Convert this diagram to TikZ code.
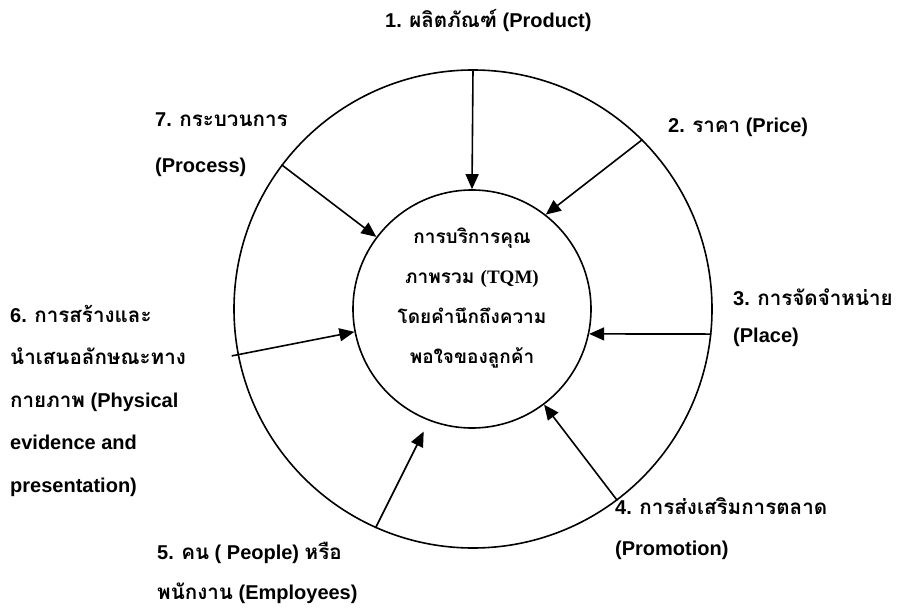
\documentclass[tikz,border=0pt]{standalone}
\usepackage{fontspec}
\setmainfont{Liberation Sans}
\newfontfamily\thai[Script=Thai,Scale=1.03]{Loma}
\newfontfamily\thaic[Script=Thai]{Loma}
\newfontfamily\tserif{Liberation Serif}
\usetikzlibrary{arrows.meta}
\begin{document}
\begin{tikzpicture}[x=1pt,y=-1pt,
  ring/.style={draw, circle, line width=1.6pt, inner sep=0pt},
  arr/.style={line width=1.6pt, -{Triangle[length=15pt,width=13pt]}},
  lab/.style={font=\bfseries\fontsize{20}{42}\selectfont, align=left, anchor=base west, inner sep=0pt}]
\useasboundingbox (0,0) rectangle (904,609);
\node[ring, minimum size=478pt] (outer) at (473,309) {};
\node[ring, minimum size=238pt] (inner) at (472,309) {};
\node[align=center, inner sep=0pt, font=\bfseries\fontsize{19}{40}\selectfont\thaic] (core) at (472,298)
  {การบริการคุณ\\ภาพรวม {\tserif\bfseries (TQM)}\\โดยคำนึกถึงความ\\พอใจของลูกค้า};
% arrows
\draw[arr] (outer.90) -- (inner.90);
\draw[arr] (outer.45) -- (inner.52);
\draw[arr] (outer.-6) -- (inner.-12);
\draw[arr] (outer.-53) -- (inner.-53);
\draw[arr, shorten >=12pt] (outer.-114) -- (inner.-111);
\draw[arr, shorten <=-6pt] (outer.191) -- (inner.191);
\draw[arr] (outer.143) -- (inner.143);
% labels (base = baseline of last line)
\node[lab] (l1) at (385,28) {1. {\thai ผลิตภัณฑ์} (Product)};
\node[lab] (l2) at (668,133) {2. {\thai ราคา} (Price)};
\node[lab, font=\bfseries\fontsize{20}{37}\selectfont] (l3) at (733,342) {3. {\thai การจัดจำหน่าย}\\(Place)};
\node[lab, font=\bfseries\fontsize{20}{41}\selectfont] (l4) at (615,555) {4. {\thai การส่งเสริมการตลาด}\\(Promotion)};
\node[lab, font=\bfseries\fontsize{20}{40}\selectfont] (l5) at (157,599) {5. {\thai คน} ( People) {\thai หรือ}\\{\thai พนักงาน} (Employees)};
\node[lab, font=\bfseries\fontsize{20}{42.5}\selectfont] (l6) at (10,492) {6. {\thai การสร้างและ}\\{\thai นำเสนอลักษณะทาง}\\{\thai กายภาพ} (Physical\\evidence and\\presentation)};
\node[lab, font=\bfseries\fontsize{20}{46}\selectfont] (l7) at (155,173) {7. {\thai กระบวนการ}\\(Process)};
\end{tikzpicture}
\end{document}
